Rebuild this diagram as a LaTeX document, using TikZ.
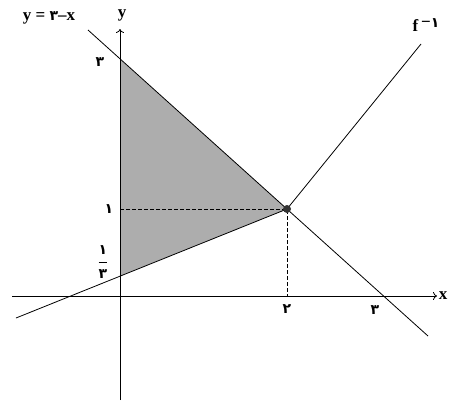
\documentclass[tikz,border=0pt]{standalone}
\usepackage{amsmath}
\usepackage{fontspec}
\setmainfont{Liberation Serif}
\newfontfamily\fadigits[Script=Arabic]{DejaVu Sans}
\newcommand{\fdig}[1]{{\fadigits\fontsize{14}{16}\selectfont #1}}
\usepackage{tikz}
\usetikzlibrary{arrows.meta,positioning,calc}

\begin{document}
\begin{tikzpicture}[x=1pt,y=-1pt,
		axis/.style={line width=0.8pt,-{To[length=4pt,width=8pt]}},
		graph/.style={line width=0.8pt},
		guide/.style={line width=0.9pt,dash pattern=on 3.5pt off 2.5pt},
		dot/.style={circle,fill=black!80,inner sep=0pt,minimum size=8pt},
		lbl/.style={font=\fontsize{17}{19}\selectfont\bfseries,inner sep=1pt}]
		\useasboundingbox (0,0) rectangle (449,400);

		\coordinate (O) at (120,296);
		\coordinate (A) at (120,59);
		\coordinate (B) at (120,276);
		\coordinate (P) at (287,209);

		\fill[black!32] (A) -- (P) -- (B) -- cycle;

		% axes
		\coordinate (xs) at (12,296);
		\coordinate (xe) at (437,296);
		\coordinate (ys) at (120,400);
		\coordinate (ye) at (120,29);
		\draw[axis] (xs) -- (xe);
		\draw[axis] (ys) -- (ye);

		% lines
		\coordinate (l1) at (88,30);
		\coordinate (l2) at (428,336);
		\coordinate (f0) at (16,318);
		\coordinate (g1) at (421,44);
		\draw[graph] (l1) -- (l2);
		\draw[graph] (f0) -- (P) -- (g1);

		\coordinate (Py) at (120,209);
		\coordinate (Px) at (287,296);
		\draw[guide] (Py) -- (P) -- (Px);
		\node[dot] (pt) at (P) {};

		\node[lbl] (ylab) at (122,15) {y};
		\node[lbl] (xlab) at (443,296) {x};
		\node[lbl] (eq) at (49,18) {y = \fdig{۳}--x};
		\node[lbl] (finv) at (426,25) {f\raisebox{4pt}{\,−\fdig{۱}}};

		\node[lbl] (y3) at (100,62) {\fdig{۳}};
		\node[lbl] (y1) at (109,209) {\fdig{۱}};
		\node[lbl] (y13) at (103,262) {$\dfrac{\text{\fdig{۱}}}{\text{\fdig{۳}}}$};
		\node[lbl] (x2) at (287,309) {\fdig{۲}};
		\node[lbl] (x3) at (375,310) {\fdig{۳}};
	\end{tikzpicture}
\end{document}
